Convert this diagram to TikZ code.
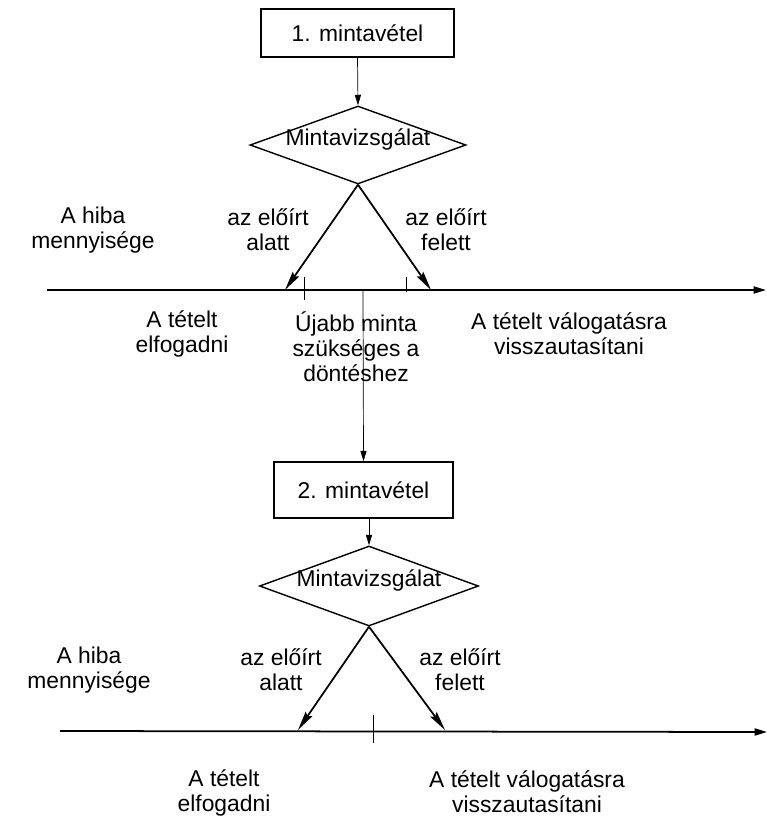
\documentclass[tikz,border=0pt]{standalone}
\usepackage{fontspec}
\setmainfont{Liberation Sans}
\usetikzlibrary{arrows.meta,shapes.geometric}

\begin{document}
\begin{tikzpicture}[x=0.02cm, y=-0.02cm,
    every node/.style={font=\fontsize{13}{14.2}\selectfont, align=center},
    box/.style={draw, thick, inner sep=0pt},
    test/.style={draw, thick, diamond, inner sep=0pt},
    arr/.style={-{Triangle[length=6pt,width=3.5pt]}},
    diag/.style={line width=1pt, -{Stealth[length=11pt,width=4.5pt,inset=1.5pt]}},
    axis/.style={line width=1pt, -{Triangle[length=7pt,width=4pt]}},
    tick/.style={thin}]
  \useasboundingbox (0,0) rectangle (767,825);
  % first sample
  \node[box, minimum width=3.86cm, minimum height=0.96cm] (s1) at (357.5,33) {1. mintavétel};
  \node[test, minimum width=4.32cm, minimum height=1.56cm] (t1) at (358,145) {};
  \node (t1txt) at (358,139) {Mintavizsgálat};
  \draw[arr] (s1.south) -- (t1.north);
  % Axis
  \coordinate (a1s) at (47,290);
  \coordinate (a1e) at (766,290);
  \coordinate (lo1) at (285,290);
  \coordinate (hi1) at (431,290);
  \coordinate (split) at (363,290);
  \draw[axis] (a1s) -- (a1e);
  \draw[diag] (t1.south) -- (lo1);
  \draw[diag] (t1.south) -- (hi1);
  % limits
  \draw[tick] (304,277) -- (304,300);
  \draw[tick] (406,277) -- (406,292);
  % labels
  \node (hiba1) at (93,230) {A hiba\\mennyisége};
  \node (alatt1) at (268,230) {az előírt\\alatt};
  \node (felett1) at (446,230) {az előírt\\felett};
  \node (elfog1) at (182,334) {A tételt\\elfogadni};
  \node (ujabb) at (356,347) {Újabb minta\\szükséges a\\döntéshez};
  \node (vissza1) at (569,334) {A tételt válogatásra\\visszautasítani};
  % second sample
  \node[box, minimum width=3.58cm, minimum height=1.12cm] (s2) at (363.5,490) {2. mintavétel};
  \draw[arr] (split) -- (s2.north);
  \node[test, minimum width=4.38cm, minimum height=1.6cm] (t2) at (369,586) {};
  \node (t2txt) at (369,580) {Mintavizsgálat};
  \draw[arr] (t2.north |- s2.south) -- (t2.north);
  % Axis
  \coordinate (a2s) at (60,731);
  \coordinate (a2e) at (767,732);
  \coordinate (lo2) at (298,730);
  \coordinate (hi2) at (445,730);
  \draw[axis] (a2s) -- (a2e);
  \draw[diag] (t2.south) -- (lo2);
  \draw[diag] (t2.south) -- (hi2);
  \draw[tick] (373,715) -- (373,743);
  % labels
  \node (hiba2) at (89,670) {A hiba\\mennyisége};
  \node (alatt2) at (281,670) {az előírt\\alatt};
  \node (felett2) at (460,670) {az előírt\\felett};
  \node (elfog2) at (224,793) {A tételt\\elfogadni};
  \node (vissza2) at (527,792) {A tételt válogatásra\\visszautasítani};
\end{tikzpicture}
\end{document}
